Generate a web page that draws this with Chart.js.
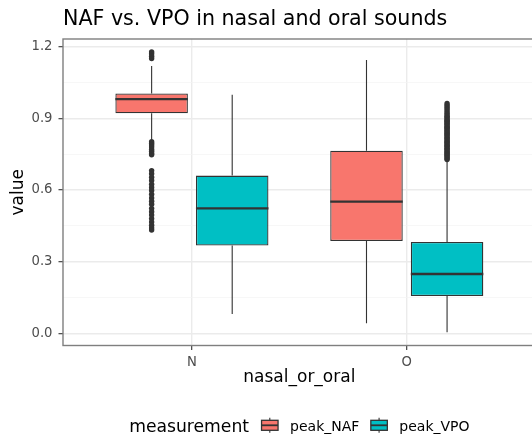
<!DOCTYPE html>
<html>
<head>
<meta charset="utf-8">
<script src="https://cdn.jsdelivr.net/npm/chart.js@4.4.1/dist/chart.umd.min.js"></script>
<style>
  html, body { margin: 0; padding: 0; background: #fff; overflow: hidden; }
  canvas { display: block; }
</style>
</head>
<body>
<canvas id="chart" width="540" height="436"></canvas>
<script>
// x categories and the two measurements
const categories = ['N', 'O'];
const measurements = ['peak_NAF', 'peak_VPO'];

// box stats per category (N, O)
const nafLower  = [0.810, 0.042];
const nafQ1     = [0.921, 0.386];
const nafMedian = [0.980, 0.551];
const nafQ3     = [1.004, 0.764];
const nafUpper  = [1.119, 1.144];

const vpoLower  = [0.081, 0.004];
const vpoQ1     = [0.367, 0.156];
const vpoMedian = [0.523, 0.248];
const vpoQ3     = [0.660, 0.382];
const vpoUpper  = [0.998, 0.718];

// outliers
const nafOutliersN = [1.178, 1.170, 1.160, 1.150,
  0.802, 0.795, 0.788, 0.780, 0.770, 0.762, 0.753, 0.747,
  0.681, 0.668, 0.653, 0.640, 0.624, 0.610, 0.598, 0.582,
  0.566, 0.553, 0.540, 0.523, 0.509, 0.495, 0.480, 0.466,
  0.452, 0.441, 0.432];
const nafOutliersO = [];
const vpoOutliersN = [];
const vpoOutliersO = [0.727, 0.732, 0.738, 0.742, 0.747, 0.753, 0.757, 0.762, 0.768, 0.772,
  0.777, 0.783, 0.787, 0.792, 0.798, 0.802, 0.807, 0.813, 0.817, 0.822,
  0.828, 0.832, 0.837, 0.843, 0.847, 0.852, 0.858, 0.862, 0.867, 0.873,
  0.877, 0.882, 0.888, 0.892, 0.897, 0.903, 0.908, 0.914, 0.921, 0.929,
  0.938, 0.946, 0.954, 0.962];

// y axis ticks
const yMajorTicks = [0, 0.3, 0.6, 0.9, 1.2];
const yMinorTicks = [0.15, 0.45, 0.75, 1.05];

const series = [
  { name: measurements[0], color: '#F8766D', shift: -0.1875,
    lower: nafLower, q1: nafQ1, median: nafMedian, q3: nafQ3, upper: nafUpper,
    outliers: [nafOutliersN, nafOutliersO] },
  { name: measurements[1], color: '#00BFC4', shift: 0.1875,
    lower: vpoLower, q1: vpoQ1, median: vpoMedian, q3: vpoQ3, upper: vpoUpper,
    outliers: [vpoOutliersN, vpoOutliersO] }
];

const INK = '#333333';
const FONT = '"DejaVu Sans", sans-serif';
Chart.defaults.font.family = FONT;

const datasets = [];
series.forEach(s => {
  datasets.push({
    type: 'bar',
    label: s.name,
    data: categories.map((c, i) => ({ x: i + s.shift, y: [s.q1[i], s.q3[i]] })),
    backgroundColor: s.color,
    borderColor: INK,
    borderWidth: 1.3,
    borderSkipped: false,
    grouped: false,
    barPercentage: 0.9,
    categoryPercentage: 1,
    order: 2
  });
});
series.forEach(s => {
  const pts = [];
  s.outliers.forEach((list, i) => list.forEach(v => pts.push({ x: i + s.shift, y: v })));
  datasets.push({
    type: 'scatter',
    label: s.name + ' outliers',
    data: pts,
    pointRadius: 2.7,
    pointBackgroundColor: INK,
    pointBorderWidth: 0,
    order: 1
  });
});

function isMajor(v) {
  return yMajorTicks.some(m => Math.abs(m - v) < 1e-9);
}

// whiskers, medians, panel border, title and legend
const boxParts = {
  id: 'boxParts',
  beforeDatasetsDraw(chart) {
    const ctx = chart.ctx, y = chart.scales.y;
    ctx.save();
    ctx.strokeStyle = INK;
    ctx.lineWidth = 1.1;
    series.forEach((s, di) => {
      chart.getDatasetMeta(di).data.forEach((el, i) => {
        ctx.beginPath();
        ctx.moveTo(el.x, y.getPixelForValue(s.q3[i]));
        ctx.lineTo(el.x, y.getPixelForValue(s.upper[i]));
        ctx.moveTo(el.x, y.getPixelForValue(s.q1[i]));
        ctx.lineTo(el.x, y.getPixelForValue(s.lower[i]));
        ctx.stroke();
      });
    });
    ctx.restore();
  },
  afterDatasetsDraw(chart) {
    const ctx = chart.ctx, y = chart.scales.y, a = chart.chartArea;
    ctx.save();
    ctx.strokeStyle = INK;
    ctx.lineWidth = 2.4;
    series.forEach((s, di) => {
      chart.getDatasetMeta(di).data.forEach((el, i) => {
        const py = y.getPixelForValue(s.median[i]);
        ctx.beginPath();
        ctx.moveTo(el.x - el.width / 2, py);
        ctx.lineTo(el.x + el.width / 2, py);
        ctx.stroke();
      });
    });
    ctx.strokeStyle = '#7f7f7f';
    ctx.lineWidth = 1.4;
    ctx.strokeRect(a.left, a.top, a.right - a.left, a.bottom - a.top);
    ctx.restore();
  },
  afterDraw(chart) {
    const ctx = chart.ctx, a = chart.chartArea;
    ctx.save();
    ctx.fillStyle = '#000';
    ctx.textBaseline = 'alphabetic';
    ctx.font = '20.6px ' + FONT;
    ctx.fillText('NAF vs. VPO in nasal and oral sounds', a.left, 25);

    // legend
    const titleFont = '17.2px ' + FONT, labelFont = '14px ' + FONT;
    ctx.font = titleFont;
    const wTitle = ctx.measureText('measurement').width;
    ctx.font = labelFont;
    const wLabels = series.map(s => ctx.measureText(s.name).width);
    const keyW = 16.5, gapTitle = 12.5, gapKey = 12, gapItem = 11.5;
    const total = wTitle + gapTitle + series.length * (keyW + gapKey) +
      wLabels.reduce((p, c) => p + c, 0) + gapItem * (series.length - 1);
    let x = (a.left + a.right) / 2 - total / 2;
    const cy = 425.3;
    ctx.font = titleFont;
    ctx.fillText('measurement', x, 431.5);
    x += wTitle + gapTitle;
    series.forEach((s, i) => {
      const cx = x + keyW / 2;
      ctx.strokeStyle = INK;
      ctx.lineWidth = 1.1;
      ctx.beginPath();
      ctx.moveTo(cx, cy - 7.5); ctx.lineTo(cx, cy + 7.5);
      ctx.stroke();
      ctx.fillStyle = s.color;
      ctx.fillRect(x, cy - 5, keyW, 10);
      ctx.lineWidth = 1.3;
      ctx.strokeRect(x, cy - 5, keyW, 10);
      ctx.lineWidth = 1.8;
      ctx.beginPath();
      ctx.moveTo(x, cy); ctx.lineTo(x + keyW, cy);
      ctx.stroke();
      x += keyW + gapKey;
      ctx.fillStyle = '#000';
      ctx.font = labelFont;
      ctx.fillText(s.name, x, 431);
      x += wLabels[i] + gapItem;
    });
    ctx.restore();
  }
};

new Chart(document.getElementById('chart'), {
  type: 'bar',
  data: { datasets },
  plugins: [boxParts],
  options: {
    responsive: false,
    animation: false,
    devicePixelRatio: 1,
    layout: { padding: { top: 39, right: 4.3, bottom: 0, left: 0 } },
    plugins: {
      legend: { display: false },
      title: { display: false },
      tooltip: { enabled: false }
    },
    scales: {
      x: {
        type: 'linear',
        min: -0.6,
        max: 1.6,
        offset: false,
        afterBuildTicks: s => { s.ticks = categories.map((c, i) => ({ value: i })); },
        afterFit: s => { s.height = 90.5; },
        ticks: {
          autoSkip: false, maxRotation: 0, padding: 4.5,
          color: '#4D4D4D', font: { size: 13.2 },
          callback: v => categories[v]
        },
        grid: { offset: false, color: '#EBEBEB', lineWidth: 1.4, tickLength: 4.5, tickColor: INK, tickWidth: 1.1 },
        border: { display: false },
        title: { display: true, text: 'nasal_or_oral', color: '#000', font: { size: 17 }, padding: { top: 0, bottom: 48.3 } }
      },
      y: {
        type: 'linear',
        min: -0.0511,
        max: 1.2318,
        afterBuildTicks: s => {
          s.ticks = yMajorTicks.concat(yMinorTicks).sort((p, q) => p - q).map(v => ({ value: v }));
        },
        afterFit: s => { s.width = 63; },
        ticks: {
          autoSkip: false, padding: 6,
          color: '#4D4D4D', font: { size: 13.2 },
          callback: v => isMajor(v) ? v.toFixed(1) : ''
        },
        grid: {
          color: c => isMajor(c.tick.value) ? '#EBEBEB' : '#F3F3F3',
          lineWidth: c => isMajor(c.tick.value) ? 1.4 : 0.7,
          tickLength: 4.5,
          tickColor: c => isMajor(c.tick.value) ? INK : 'rgba(0,0,0,0)',
          tickWidth: 1.1
        },
        border: { display: false },
        title: { display: true, text: 'value', color: '#000', font: { size: 17 }, padding: { top: 8.7, bottom: 0 } }
      }
    }
  }
});
</script>
</body>
</html>
